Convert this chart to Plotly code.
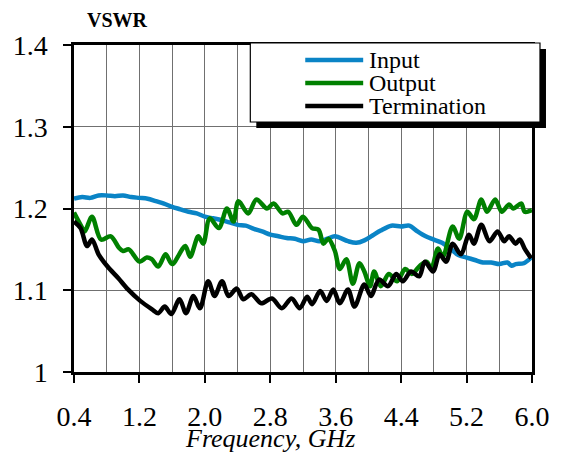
import plotly.graph_objects as go

# ---- data ----
input_freq = [0.40, 0.50, 0.60, 0.70, 0.80, 0.90, 1.00, 1.10, 1.20, 1.30, 1.40, 1.50, 1.60, 1.70, 1.80,
              1.90, 2.00, 2.10, 2.20, 2.30, 2.40, 2.50, 2.60, 2.70, 2.80, 2.90, 3.00, 3.10, 3.20, 3.30,
              3.40, 3.50, 3.59, 3.75, 3.85, 3.95, 4.05, 4.15, 4.28, 4.40, 4.50, 4.60, 4.70, 4.80, 4.90,
              5.00, 5.10, 5.20, 5.30, 5.40, 5.50, 5.60, 5.70, 5.75, 5.80, 5.90, 6.00]
input_vswr = [1.212, 1.214, 1.213, 1.216, 1.216, 1.215, 1.216, 1.214, 1.213, 1.212, 1.209, 1.206, 1.202, 1.199, 1.196,
              1.194, 1.190, 1.188, 1.186, 1.183, 1.180, 1.179, 1.175, 1.172, 1.168, 1.166, 1.164, 1.163, 1.160, 1.162,
              1.160, 1.163, 1.166, 1.160, 1.158, 1.161, 1.167, 1.173, 1.179, 1.178, 1.179, 1.172, 1.166, 1.162, 1.158,
              1.151, 1.143, 1.140, 1.137, 1.134, 1.134, 1.132, 1.134, 1.130, 1.132, 1.133, 1.141]

output_freq = [0.40, 0.48, 0.53, 0.62, 0.73, 0.85, 0.95, 1.00, 1.07, 1.20, 1.29, 1.35, 1.43, 1.52, 1.60,
               1.76, 1.82, 1.92, 1.98, 2.06, 2.17, 2.27, 2.35, 2.41, 2.53, 2.63, 2.76, 2.84, 2.95, 3.02,
               3.12, 3.20, 3.31, 3.39, 3.45, 3.51, 3.59, 3.65, 3.73, 3.81, 3.89, 3.95, 4.02, 4.07, 4.15,
               4.25, 4.35, 4.45, 4.53, 4.63, 4.71, 4.77, 4.85, 4.91, 5.03, 5.11, 5.21, 5.29, 5.38, 5.45,
               5.55, 5.63, 5.72, 5.77, 5.87, 5.91, 6.00]
output_vswr = [1.195, 1.180, 1.172, 1.190, 1.162, 1.166, 1.152, 1.148, 1.150, 1.135, 1.140, 1.138, 1.129, 1.144, 1.132,
               1.154, 1.141, 1.166, 1.157, 1.188, 1.176, 1.200, 1.184, 1.209, 1.194, 1.211, 1.200, 1.206, 1.194, 1.196,
               1.180, 1.190, 1.176, 1.174, 1.157, 1.163, 1.148, 1.126, 1.138, 1.108, 1.133, 1.123, 1.105, 1.123, 1.105,
               1.120, 1.111, 1.126, 1.120, 1.130, 1.135, 1.127, 1.151, 1.141, 1.178, 1.163, 1.196, 1.187, 1.211, 1.196,
               1.211, 1.196, 1.205, 1.200, 1.206, 1.196, 1.198]

term_freq = [0.40, 0.48, 0.56, 0.62, 0.70, 0.81, 0.94, 1.06, 1.21, 1.35, 1.43, 1.51, 1.59, 1.69, 1.77,
             1.86, 1.94, 2.04, 2.12, 2.21, 2.29, 2.39, 2.47, 2.57, 2.69, 2.82, 2.94, 3.06, 3.16, 3.25,
             3.31, 3.41, 3.49, 3.57, 3.65, 3.75, 3.83, 3.95, 4.03, 4.13, 4.24, 4.34, 4.42, 4.52, 4.62,
             4.69, 4.79, 4.87, 4.95, 5.03, 5.13, 5.23, 5.29, 5.38, 5.48, 5.58, 5.66, 5.72, 5.80, 5.85,
             5.91, 5.99]
term_vswr = [1.184, 1.176, 1.154, 1.162, 1.144, 1.129, 1.115, 1.101, 1.087, 1.077, 1.072, 1.080, 1.071, 1.089, 1.072,
             1.093, 1.078, 1.111, 1.093, 1.111, 1.093, 1.102, 1.089, 1.095, 1.084, 1.090, 1.078, 1.090, 1.078, 1.092,
             1.083, 1.099, 1.087, 1.101, 1.084, 1.101, 1.080, 1.107, 1.093, 1.113, 1.105, 1.120, 1.111, 1.123, 1.117,
             1.135, 1.123, 1.144, 1.135, 1.157, 1.144, 1.168, 1.157, 1.180, 1.160, 1.172, 1.160, 1.166, 1.157, 1.162,
             1.151, 1.139]

series_names = ["Input", "Output", "Termination"]
series_colors = ["#0a84c6", "#008000", "#000000"]

x_tickvals = [0.4, 1.2, 2.0, 2.8, 3.6, 4.4, 5.2, 6.0]
y_tickvals = [1.0, 1.1, 1.2, 1.3, 1.4]
y_ticktext = ["1", "1.1", "1.2", "1.3", "1.4"]

FONT = "Liberation Serif"
TITLE_FONT = "Times New Roman, Liberation Serif, DejaVu Serif, serif"

W, H = 566, 455
L, R, T, B = 73.5, 532, 45, 372  # plot area in pixels


def px(xp):
    return (xp - L) / (R - L)


def py(yp):
    return (B - yp) / (B - T)


fig = go.Figure()
for fx, vy, name, col in zip([input_freq, output_freq, term_freq],
                             [input_vswr, output_vswr, term_vswr],
                             series_names, series_colors):
    fig.add_trace(go.Scatter(x=fx, y=vy, mode="lines", name=name,
                             line=dict(color=col, width=4.5, shape="spline", smoothing=0.9),
                             showlegend=False))

fig.update_layout(
    width=W, height=H,
    margin=dict(l=L, r=W - R, t=T, b=H - B, pad=0),
    paper_bgcolor="white", plot_bgcolor="white",
    font=dict(family=FONT, color="black"),
    xaxis=dict(range=[0.4, 6.0], tickvals=x_tickvals, tickformat=".1f",
               showgrid=True, gridcolor="#707070", gridwidth=1,
               minor=dict(dtick=0.4, tick0=0.4, showgrid=True, gridcolor="#707070", gridwidth=1, ticks=""),
               ticks="outside", ticklen=8, tickwidth=2, tickcolor="black",
               showline=True, linecolor="black", linewidth=2.5, mirror=True,
               zeroline=False, tickfont=dict(size=28, family=FONT),
               ticklabelstandoff=10, automargin=False),
    yaxis=dict(range=[1.0, 1.4], tickvals=y_tickvals, ticktext=y_ticktext,
               showgrid=True, gridcolor="#707070", gridwidth=1,
               ticks="outside", ticklen=8, tickwidth=2, tickcolor="black",
               showline=True, linecolor="black", linewidth=2.5, mirror=True,
               zeroline=False, tickfont=dict(size=28, family=FONT),
               ticklabelstandoff=10, automargin=False),
)

shapes = []
# legend shadow and box
shapes.append(dict(type="rect", xref="paper", yref="paper", layer="above",
                   x0=px(256), x1=px(546), y0=py(128), y1=py(49),
                   fillcolor="black", line=dict(width=0)))
shapes.append(dict(type="rect", xref="paper", yref="paper", layer="above",
                   x0=px(250), x1=px(540), y0=py(122), y1=py(43),
                   fillcolor="white", line=dict(color="black", width=1.2)))
legend_rows = [60, 83, 106]
annotations = []
for name, col, ry in zip(series_names, series_colors, legend_rows):
    shapes.append(dict(type="line", xref="paper", yref="paper", layer="above",
                       x0=px(305), x1=px(363), y0=py(ry), y1=py(ry),
                       line=dict(color=col, width=4.5)))
    annotations.append(dict(xref="paper", yref="paper", x=px(367), y=py(ry),
                            xanchor="left", yanchor="middle", showarrow=False,
                            text=name, font=dict(size=24, family=FONT, color="black")))

annotations.append(dict(xref="paper", yref="paper", x=px(117), y=py(20),
                        xanchor="center", yanchor="middle", showarrow=False,
                        text="<b>VSWR</b>", font=dict(size=20, family=FONT, color="black")))
annotations.append(dict(xref="paper", yref="paper", x=px(270), y=py(455),
                        xanchor="center", yanchor="bottom", showarrow=False,
                        text="<i>Frequency, GHz</i>",
                        font=dict(size=26, family=TITLE_FONT, color="black")))

fig.update_layout(shapes=shapes, annotations=annotations)

fig.write_html("out.html", config={"displayModeBar": False},
               post_script="document.body.style.margin='0px';")
